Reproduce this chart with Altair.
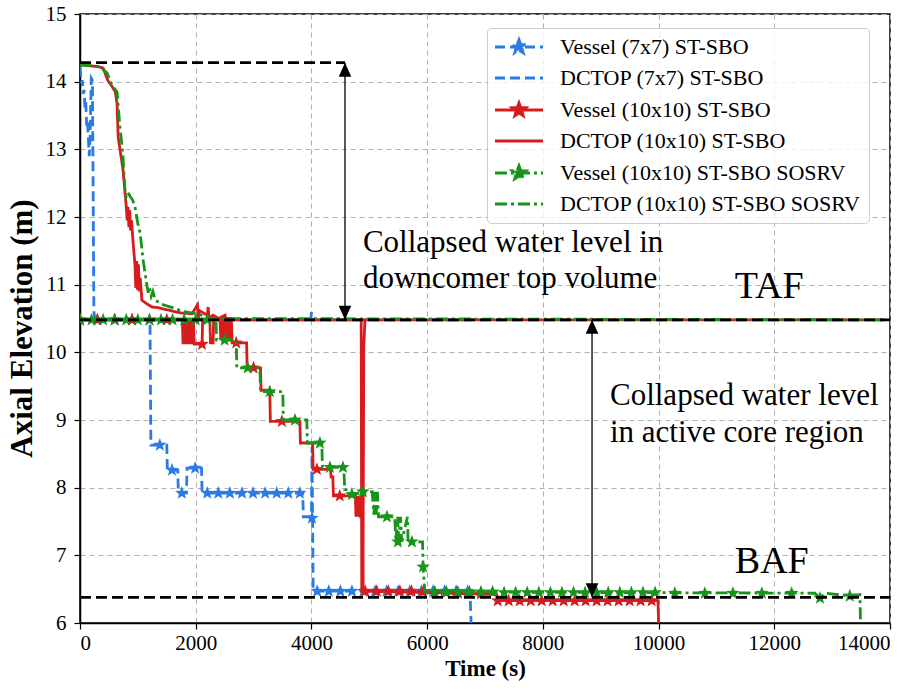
import altair as alt
import pandas as pd

# ---------------- data ----------------
SERIES = [
    "Vessel (7x7) ST-SBO",
    "DCTOP (7x7) ST-SBO",
    "Vessel (10x10) ST-SBO",
    "DCTOP (10x10) ST-SBO",
    "Vessel (10x10) ST-SBO SOSRV",
    "DCTOP (10x10) ST-SBO SOSRV",
]

# (time s, elevation m) points of each curve
V77 = [(0, 10.48), (1210, 10.48), (1225, 8.63), (1500, 8.63), (1510, 8.26), (1690, 8.26),
       (1700, 7.92), (1840, 7.92), (1850, 8.29), (2100, 8.29), (2110, 7.92), (3850, 7.92),
       (3860, 7.57), (4000, 7.57), (4010, 8.6), (4030, 6.47), (6740, 6.47), (6760, 6.0)]
V77_STARS = [(0, 10.48), (300, 10.48), (600, 10.48), (900, 10.48), (1380, 8.63), (1590, 8.26),
             (1760, 7.92), (1990, 8.29), (2200, 7.92), (2390, 7.92), (2590, 7.92), (2800, 7.92),
             (2990, 7.92), (3200, 7.92), (3400, 7.92), (3600, 7.92), (3800, 7.92), (4010, 7.55),
             (4100, 6.47), (4300, 6.47), (4500, 6.47), (4700, 6.47), (4900, 6.47), (5100, 6.47),
             (5300, 6.47), (5500, 6.47), (5700, 6.47), (5900, 6.47), (6100, 6.47), (6300, 6.47),
             (6500, 6.47), (6700, 6.47)]
DC77 = [(0, 14.22), (20, 13.98), (40, 14.02), (55, 13.82), (70, 13.88), (85, 13.62), (100, 13.7),
        (115, 13.35), (130, 13.42), (145, 13.15), (160, 12.9), (175, 13.2), (195, 14.05),
        (215, 14.02), (240, 10.6), (260, 10.48), (3990, 10.48), (4000, 10.6), (4010, 10.48),
        (6750, 10.48)]

V10 = [(0, 10.48), (1770, 10.48), (1780, 10.12), (1800, 10.48), (1820, 10.12), (1840, 10.48),
       (1860, 10.12), (1880, 10.48), (1900, 10.12), (1920, 10.48), (1940, 10.12), (1960, 10.48),
       (1975, 10.12), (2110, 10.12), (2120, 10.48), (2245, 10.48), (2255, 10.14), (2300, 10.14),
       (2310, 10.48), (2420, 10.48), (2435, 10.18), (2455, 10.52), (2475, 10.18), (2495, 10.52),
       (2515, 10.18), (2535, 10.52), (2555, 10.18), (2575, 10.52), (2595, 10.18), (2615, 10.52),
       (2630, 10.14), (2880, 10.14), (2890, 9.77), (3120, 9.77), (3130, 9.44), (3280, 9.44),
       (3290, 8.98), (3800, 8.98), (3810, 8.66), (4020, 8.66), (4030, 8.27), (4330, 8.27),
       (4340, 8.16), (4370, 8.16), (4380, 7.88), (4760, 7.88), (4770, 7.57), (4790, 7.88),
       (4810, 7.57), (4830, 7.88), (4850, 7.57), (4880, 7.57), (4890, 6.47), (6000, 6.45),
       (7200, 6.42), (7210, 6.33), (9990, 6.33), (10000, 6.0)]
V10_STARS = [(0, 10.48), (300, 10.48), (600, 10.48), (900, 10.48), (1200, 10.48), (1500, 10.48),
             (2110, 10.12), (2700, 10.14), (3000, 9.77), (3490, 8.98), (4095, 8.27), (4490, 7.88),
             (4930, 6.47), (5130, 6.47), (5330, 6.47), (5530, 6.47), (5730, 6.47), (5930, 6.46),
             (6130, 6.45), (6330, 6.45), (6530, 6.44), (6730, 6.44), (6930, 6.43), (7220, 6.33),
             (7410, 6.33), (7600, 6.33), (7790, 6.33), (7980, 6.33), (8170, 6.33), (8360, 6.33),
             (8550, 6.33), (8740, 6.33), (8930, 6.33), (9120, 6.33), (9310, 6.33), (9500, 6.33),
             (9690, 6.33), (9880, 6.33)]
DC10 = [(0, 14.25), (330, 14.22), (400, 14.2), (480, 14.02), (553, 13.93), (610, 13.85),
        (640, 13.68), (660, 13.18), (700, 12.95), (743, 12.7), (780, 12.35), (800, 12.15),
        (815, 11.95), (830, 12.15), (845, 11.85), (860, 12.1), (875, 11.8), (890, 11.95),
        (920, 11.6), (950, 11.3), (965, 10.95), (980, 11.35), (995, 10.92), (1010, 11.3),
        (1025, 10.9), (1040, 11.1), (1070, 10.77), (1150, 10.72), (1245, 10.67), (1350, 10.66),
        (1450, 10.64), (1550, 10.62), (1640, 10.6), (1760, 10.58), (1935, 10.57), (2030, 10.7),
        (2045, 10.5), (2060, 10.62), (2200, 10.55), (2215, 10.67), (2230, 10.5), (2300, 10.55),
        (2400, 10.5), (2506, 10.55), (2520, 10.48), (4860, 10.48), (4870, 6.47), (4890, 6.47),
        (4905, 10.1), (4925, 10.48), (13900, 10.48)]

V10S = [(0, 10.48), (2350, 10.48), (2360, 10.18), (2700, 10.18), (2710, 9.77), (3110, 9.77),
        (3120, 9.42), (3505, 9.42), (3515, 9.0), (3920, 9.0), (3930, 8.66), (4180, 8.66),
        (4190, 8.3), (4560, 8.3), (4575, 7.97), (4640, 7.97), (4650, 7.9), (5050, 7.94),
        (5080, 7.6), (5100, 7.94), (5120, 7.6), (5140, 7.94), (5160, 7.57), (5440, 7.57),
        (5460, 7.2), (5490, 7.57), (5510, 7.2), (5540, 7.57), (5560, 7.2), (5660, 7.57),
        (5670, 7.2), (5920, 7.2), (5930, 6.83), (5960, 6.46), (12700, 6.44), (12790, 6.37),
        (12880, 6.44), (13300, 6.4), (13480, 6.42), (13490, 6.0)]
V10S_STARS = [(0, 10.48), (200, 10.48), (400, 10.48), (600, 10.48), (800, 10.48), (1000, 10.48),
              (1200, 10.48), (1400, 10.48), (1600, 10.48), (1800, 10.48), (2000, 10.48),
              (2200, 10.48), (2500, 10.18), (2900, 9.77), (3280, 9.42), (3715, 9.0), (4147, 8.66),
              (4320, 8.3), (4545, 8.3), (4700, 7.9), (4890, 7.94), (5305, 7.57), (5495, 7.2),
              (5737, 7.2), (5930, 6.83), (6130, 6.46), (6330, 6.46), (6530, 6.46), (6730, 6.46),
              (6930, 6.46), (7130, 6.46), (7330, 6.45), (7530, 6.45), (7730, 6.45), (7930, 6.45),
              (8130, 6.45), (8330, 6.45), (8530, 6.45), (8730, 6.45), (8930, 6.45), (9130, 6.45),
              (9330, 6.45), (9530, 6.45), (9730, 6.45), (9940, 6.45), (10280, 6.44),
              (10800, 6.44), (11285, 6.44), (11785, 6.44), (12300, 6.44), (12790, 6.37),
              (13305, 6.4)]
DC10S = [(0, 14.25), (345, 14.22), (467, 14.13), (550, 13.95), (640, 13.85), (690, 13.33),
         (740, 12.95), (780, 12.35), (800, 12.3), (830, 12.36), (870, 12.3), (910, 12.25),
         (950, 12.15), (1000, 11.9), (1040, 11.76), (1090, 11.37), (1160, 10.97), (1180, 10.88),
         (1200, 10.95), (1230, 10.83), (1260, 10.9), (1300, 10.77), (1450, 10.7), (1640, 10.65),
         (1800, 10.6), (1950, 10.58), (2100, 10.55), (2250, 10.5), (13900, 10.48)]

TAF = 10.48
BAF = 6.38
DC_TOP = 14.28
TIME_MAX = 14000
TOP_LINE_END = 4580
ARROW_DC_T = 4580
ARROW_CORE_T = 8850

ANNOTATIONS = [
    ("Collapsed water level in", 4890, 11.48),
    ("downcomer top volume", 4890, 10.95),
    ("Collapsed water level", 9160, 9.22),
    ("in active core region", 9160, 8.68),
]
BIG_LABELS = [("TAF", 11318, 10.80), ("BAF", 11318, 6.74)]

X_TICKS = [0, 2000, 4000, 6000, 8000, 10000, 12000, 14000]
Y_TICKS = [6, 7, 8, 9, 10, 11, 12, 13, 14, 15]

# ---------------- styles ----------------
COLORS = ["#2a7be4", "#2a7be4", "#d61c1c", "#d61c1c", "#17951b", "#17951b"]
DASHES = [[10, 5], [10, 5], [1, 0], [1, 0], [12, 4, 3, 4], [12, 4, 3, 4]]
SERIF = "Liberation Serif"

# star marker with a (stroke-only) legend line through it; the line is invisible on the
# unstroked plot markers and shows only in the legend, where the symbols are stroked
STAR_WITH_LINE = ("M-3.34,0L3.34,0M0,-1L0.247,-0.34L0.951,-0.309L0.399,0.13L0.588,0.809L0,0.42"
                  "L-0.588,0.809L-0.399,0.13L-0.951,-0.309L-0.247,-0.34Z")
LINE_ONLY = "M-3.34,0L3.34,0"
SHAPES = [STAR_WITH_LINE, LINE_ONLY, STAR_WITH_LINE, LINE_ONLY, STAR_WITH_LINE, LINE_ONLY]
HEAD_UP = "M0,0L0.45,1L-0.45,1Z"
HEAD_DOWN = "M0,0L0.45,-1L-0.45,-1Z"

xscale = alt.Scale(domain=[0, TIME_MAX], nice=False, zero=False)
yscale = alt.Scale(domain=[6, 15], nice=False, zero=False)
xaxis = alt.Axis(values=X_TICKS, format="d", title="Time (s)", titleFontSize=23,
                 titlePadding=4, labelPadding=3)
yaxis = alt.Axis(values=Y_TICKS, format="d", title="Axial Elevation (m)", titleFontSize=31,
                 titlePadding=7, labelPadding=8, titleY=314)


def X(field="t"):
    return alt.X(f"{field}:Q", scale=xscale, axis=xaxis)


def Y(field="z"):
    return alt.Y(f"{field}:Q", scale=yscale, axis=yaxis)


legend = alt.Legend(
    title=None, orient="none", legendX=407, legendY=14,
    labelFont=SERIF, labelFontSize=22, labelColor="black", labelLimit=0,
    symbolSize=207, symbolStrokeWidth=2.8, symbolOffset=13, labelOffset=30,
    rowPadding=8.0, padding=8, symbolLimit=0, symbolOpacity=1,
    fillColor="rgba(255,255,255,0.8)", strokeColor="#cccccc", cornerRadius=4,
)
color_enc = alt.Color("series:N", scale=alt.Scale(domain=SERIES, range=COLORS), legend=legend)
dash_enc = alt.StrokeDash("series:N", scale=alt.Scale(domain=SERIES, range=DASHES), legend=legend)
shape_enc = alt.Shape("series:N", scale=alt.Scale(domain=SERIES, range=SHAPES), legend=legend)


def frame(points, name):
    df = pd.DataFrame(points, columns=["t", "z"])
    df["series"] = name
    df["i"] = range(len(df))
    return df


def line_layer(points, name):
    return alt.Chart(frame(points, name)).mark_line(strokeWidth=2.8, clip=True).encode(
        x=X(), y=Y(), color=color_enc, strokeDash=dash_enc, order="i:Q")


def star_layer(points, name):
    return alt.Chart(frame(points, name)).mark_point(
        filled=True, size=200, opacity=1, strokeWidth=0, clip=True
    ).encode(x=X(), y=Y(), color=color_enc, shape=shape_enc)


layers = [
    line_layer(V77, SERIES[0]), star_layer(V77_STARS, SERIES[0]),
    line_layer(DC77, SERIES[1]),
    line_layer(V10, SERIES[2]), star_layer(V10_STARS, SERIES[2]),
    line_layer(DC10, SERIES[3]),
    line_layer(V10S, SERIES[4]), star_layer(V10S_STARS, SERIES[4]),
    line_layer(DC10S, SERIES[5]),
]

# black dashed reference levels
ref_df = pd.DataFrame({"t0": [0, 0, 0], "t1": [TOP_LINE_END, TIME_MAX, TIME_MAX],
                       "z": [DC_TOP, TAF, BAF]})
layers.append(alt.Chart(ref_df).mark_rule(color="black", strokeWidth=2.8, strokeDash=[11, 5]).encode(
    x=X("t0"), x2="t1:Q", y=Y()))

# double arrows
arr_df = pd.DataFrame({"t": [ARROW_DC_T, ARROW_CORE_T], "top": [DC_TOP, TAF], "bot": [TAF, BAF]})
layers.append(alt.Chart(arr_df).mark_rule(color="black", strokeWidth=1.3).encode(
    x=X(), y=Y("top"), y2="bot:Q"))
layers.append(alt.Chart(arr_df).mark_point(shape=HEAD_UP, filled=True, color="black", size=784,
                                           opacity=1, strokeWidth=0).encode(x=X(), y=Y("top")))
layers.append(alt.Chart(arr_df).mark_point(shape=HEAD_DOWN, filled=True, color="black", size=784,
                                           opacity=1, strokeWidth=0).encode(x=X(), y=Y("bot")))

# annotations
ann_df = pd.DataFrame(ANNOTATIONS, columns=["label", "t", "z"])
layers.append(alt.Chart(ann_df).mark_text(font=SERIF, fontSize=31, align="left",
                                          baseline="alphabetic", color="black").encode(
    x=X(), y=Y(), text="label:N"))
big_df = pd.DataFrame(BIG_LABELS, columns=["label", "t", "z"])
layers.append(alt.Chart(big_df).mark_text(font=SERIF, fontSize=38, align="left",
                                          baseline="alphabetic", color="black").encode(
    x=X(), y=Y(), text="label:N"))

chart = alt.layer(*layers).properties(
    width=810, height=609,
    padding={"left": 80, "top": 14, "right": 31, "bottom": 66},
    autosize=alt.AutoSizeParams(type="none"),
).configure_view(
    stroke="black", strokeWidth=1.5
).configure_axis(
    labelFont=SERIF, labelFontSize=21, labelColor="black",
    titleFont=SERIF, titleFontWeight="bold", titleColor="black",
    tickColor="black", tickSize=6, tickWidth=1.2,
    domainColor="black", domainWidth=1.5,
    grid=True, gridColor="#b0b0b0", gridDash=[5, 4], gridWidth=1,
)

chart.save("out.html", embed_options={"renderer": "svg", "actions": False})
